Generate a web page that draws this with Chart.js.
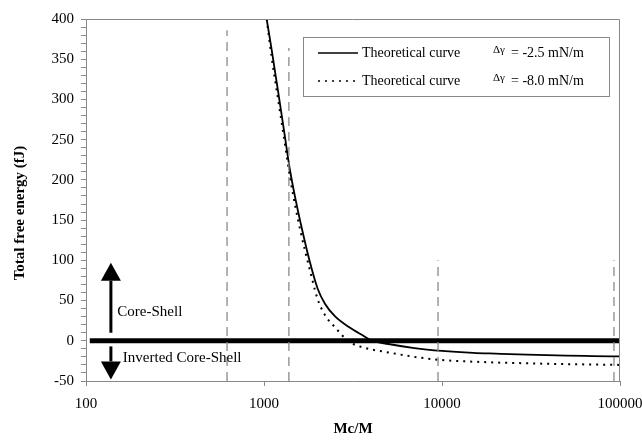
<!DOCTYPE html>
<html>
<head>
<meta charset="utf-8">
<script src="https://cdn.jsdelivr.net/npm/chart.js@4.4.1/dist/chart.umd.min.js"></script>
<style>
  html, body { margin: 0; padding: 0; background: #fff; }
</style>
</head>
<body>
<canvas id="chart" width="642" height="443"></canvas>
<script>
// data
const mcOverM = [1035, 1100, 1200, 1300, 1400, 1500, 1600, 1800, 2000, 2200, 2500, 3000, 3500,
                 4000, 5000, 7000, 10000, 15000, 20000, 30000, 50000, 70000, 100000];
const energyA = [400, 364, 310, 259, 212, 177, 148, 100, 65, 46, 30.5, 17, 8,
                 0.5, -4, -9, -12.5, -15, -16, -17.3, -18.5, -19, -19.5];   // dgamma = -2.5
const energyB = [400, 355, 300, 250, 203, 167, 137, 90, 52, 32, 17, -1, -7.5,
                 -10.7, -14.5, -20, -24, -26, -27, -28, -29, -29.5, -30];  // dgamma = -8.0
const seriesNames = ["Theoretical curve", "Theoretical curve"];
const seriesGamma = ["= -2.5 mN/m", "= -8.0 mN/m"];
const xTickValues = [100, 1000, 10000, 100000];
const xTickLabels = ["100", "1000", "10000", "100000"];
const markerX = [620, 1380, 9500, 92500];
const markerTop = [386, 364, 100, 100];
const zeroLineX = [105, 100000];
const arrowX = 138;
const upArrow = [10, 97];
const downArrow = [-7, -48];
const regionLabels = ["Core-Shell", "Inverted Core-Shell"];

const serif = "'Liberation Serif', 'Times New Roman', serif";
Chart.defaults.font.family = serif;
Chart.defaults.color = "#000";

const datasets = [];
markerX.forEach((x, i) => {
    datasets.push({
        data: [{ x: x, y: -50 }, { x: x, y: markerTop[i] }],
        borderColor: "#8a8a8a",
        borderWidth: 1.3,
        borderDash: [9, 6],
        pointRadius: 0,
    });
});
datasets.push({
    data: zeroLineX.map((x) => ({ x: x, y: 0 })),
    borderColor: "#000",
    borderWidth: 5,
    pointRadius: 0,
});
datasets.push({
    label: seriesNames[0],
    data: mcOverM.map((x, i) => ({ x: x, y: energyA[i] })),
    borderColor: "#000",
    borderWidth: 1.8,
    pointRadius: 0,
    cubicInterpolationMode: "monotone",
});
datasets.push({
    label: seriesNames[1],
    data: mcOverM.map((x, i) => ({ x: x, y: energyB[i] })),
    borderColor: "#000",
    borderWidth: 2,
    borderDash: [2, 5],
    pointRadius: 0,
    cubicInterpolationMode: "monotone",
});

// frame, arrows, labels, legend
const extras = {
    id: "extras",
    afterDraw(chart) {
        const ctx = chart.ctx;
        const xs = chart.scales.x, ys = chart.scales.y;
        const a = chart.chartArea;
        ctx.save();

        // top and right frame
        ctx.strokeStyle = "#888";
        ctx.lineWidth = 1;
        ctx.beginPath();
        ctx.moveTo(a.left, a.top + 0.5);
        ctx.lineTo(a.right - 0.5, a.top + 0.5);
        ctx.lineTo(a.right - 0.5, a.bottom);
        ctx.stroke();

        // arrows
        const ax = xs.getPixelForValue(arrowX);
        function arrow(y0, y1) {
            const p0 = ys.getPixelForValue(y0), p1 = ys.getPixelForValue(y1);
            const dir = p1 < p0 ? 1 : -1;
            const base = p1 + dir * 18;
            ctx.strokeStyle = "#000";
            ctx.lineWidth = 3;
            ctx.beginPath();
            ctx.moveTo(ax, p0);
            ctx.lineTo(ax, base);
            ctx.stroke();
            ctx.fillStyle = "#000";
            ctx.beginPath();
            ctx.moveTo(ax, p1);
            ctx.lineTo(ax - 10, base);
            ctx.lineTo(ax + 10, base);
            ctx.closePath();
            ctx.fill();
        }
        arrow(upArrow[0], upArrow[1]);
        arrow(downArrow[0], downArrow[1]);

        ctx.fillStyle = "#000";
        ctx.font = "15px " + serif;
        ctx.textBaseline = "middle";
        ctx.textAlign = "left";
        ctx.fillText(regionLabels[0], xs.getPixelForValue(150), ys.getPixelForValue(36));
        ctx.fillText(regionLabels[1], xs.getPixelForValue(161), ys.getPixelForValue(-21));

        // y axis title
        ctx.save();
        ctx.translate(20, 213);
        ctx.rotate(-Math.PI / 2);
        ctx.textAlign = "center";
        ctx.font = "bold 15px " + serif;
        ctx.fillText("Total free energy (fJ)", 0, 0);
        ctx.restore();

        // legend
        ctx.strokeStyle = "#888";
        ctx.lineWidth = 1;
        ctx.strokeRect(303.5, 37.5, 306, 59);
        const rows = [53, 81];
        [datasets.length - 2, datasets.length - 1].forEach((di, r) => {
            const ds = chart.data.datasets[di];
            const y = rows[r];
            ctx.strokeStyle = "#000";
            ctx.lineWidth = 1.6;
            ctx.setLineDash(ds.borderDash || []);
            ctx.beginPath();
            ctx.moveTo(318, y);
            ctx.lineTo(358, y);
            ctx.stroke();
            ctx.setLineDash([]);
            ctx.textAlign = "left";
            ctx.font = "14px " + serif;
            ctx.fillText(ds.label, 362, y);
            ctx.font = "11px " + serif;
            ctx.fillText("\u0394\u03b3", 493, y - 3);
            ctx.font = "14px " + serif;
            ctx.fillText(seriesGamma[r], 511, y);
        });
        ctx.restore();
    },
};

new Chart(document.getElementById("chart"), {
    type: "line",
    data: { datasets: datasets },
    options: {
        responsive: false,
        animation: false,
        layout: { padding: { left: 0, right: 22, top: 19, bottom: 0 } },
        plugins: { legend: { display: false }, tooltip: { enabled: false } },
        scales: {
            x: {
                type: "logarithmic",
                min: 100,
                max: 100000,
                afterBuildTicks: (s) => { s.ticks = xTickValues.map((v) => ({ value: v })); },
                afterFit: (s) => { s.height = 62; s.paddingLeft = 0; s.paddingRight = 0; },
                ticks: {
                    autoSkip: false,
                    maxRotation: 0,
                    padding: 9,
                    font: { size: 15 },
                    callback: (v, i) => xTickLabels[i],
                },
                grid: { drawOnChartArea: false, tickLength: 5, color: "#888" },
                border: { color: "#888" },
                title: {
                    display: true,
                    text: "Mc/M",
                    font: { size: 15, weight: "bold" },
                    padding: { top: 0, bottom: 5 },
                },
            },
            y: {
                min: -50,
                max: 400,
                afterFit: (s) => { s.width = 86; s.paddingTop = 0; s.paddingBottom = 0; },
                ticks: {
                    stepSize: 10,
                    autoSkip: false,
                    padding: 7,
                    font: { size: 15 },
                    callback: (v) => (v % 50 === 0 ? String(v) : ""),
                },
                grid: { drawOnChartArea: false, tickLength: 5, color: "#888" },
                border: { color: "#888" },
            },
        },
    },
    plugins: [extras],
});
</script>
</body>
</html>
